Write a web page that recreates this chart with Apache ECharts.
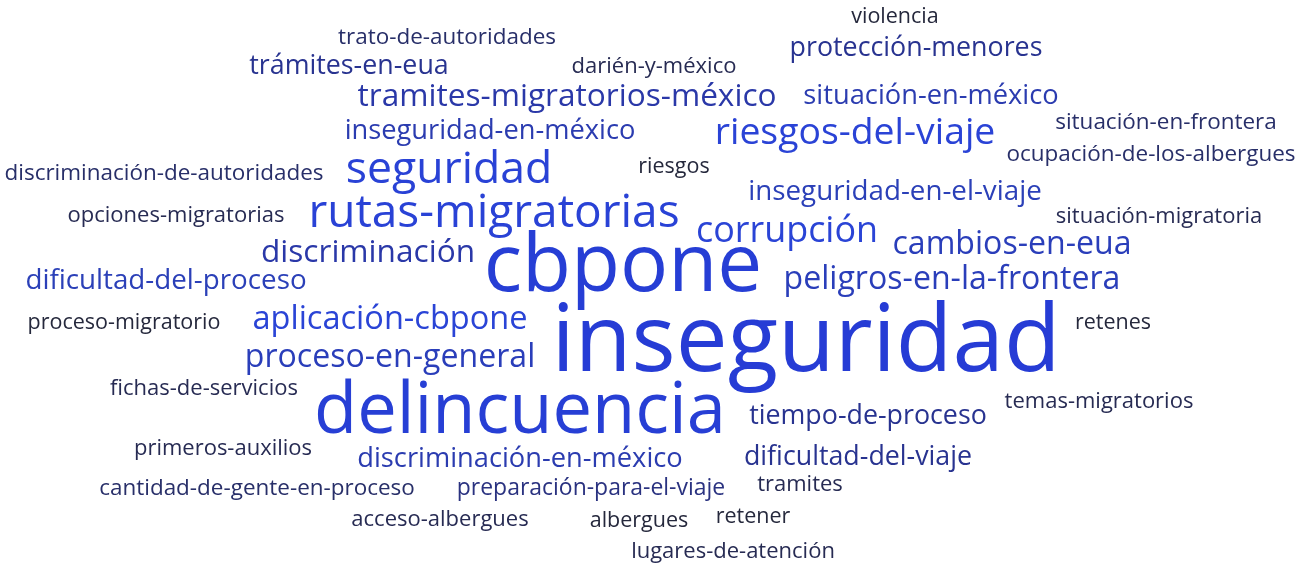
<!DOCTYPE html>
<html>
<head>
<meta charset="utf-8">
<script src="https://cdn.jsdelivr.net/npm/echarts@6/dist/echarts.min.js"></script>
<style>
  html, body { margin: 0; padding: 0; background: #ffffff; }
  #chart { width: 1300px; height: 565px; }
</style>
</head>
<body>
<div id="chart"></div>
<script>
// palabras de la nube, su frecuencia y la posición del centro de cada palabra
var words = [
    'violencia', 'trato-de-autoridades', 'protección-menores', 'trámites-en-eua',
    'darién-y-méxico', 'tramites-migratorios-méxico', 'situación-en-méxico',
    'situación-en-frontera', 'inseguridad-en-méxico', 'riesgos-del-viaje',
    'ocupación-de-los-albergues', 'discriminación-de-autoridades', 'riesgos',
    'seguridad', 'inseguridad-en-el-viaje', 'opciones-migratorias',
    'rutas-migratorias', 'situación-migratoria', 'corrupción', 'discriminación',
    'cambios-en-eua', 'cbpone', 'dificultad-del-proceso', 'peligros-en-la-frontera',
    'proceso-migratorio', 'aplicación-cbpone', 'inseguridad', 'retenes',
    'proceso-en-general', 'fichas-de-servicios', 'delincuencia', 'tiempo-de-proceso',
    'temas-migratorios', 'primeros-auxilios', 'discriminación-en-méxico',
    'dificultad-del-viaje', 'cantidad-de-gente-en-proceso', 'preparación-para-el-viaje',
    'tramites', 'acceso-albergues', 'albergues', 'retener', 'lugares-de-atención'
];
var counts = [
    9, 11, 20, 20,
    10, 30, 21,
    11, 21, 42,
    11, 11, 9,
    57, 22, 10,
    60, 10, 39, 30,
    31, 131, 22, 31,
    9, 32, 157, 9,
    31, 10, 111, 20,
    10, 10, 21,
    20, 11, 12,
    10, 10, 9, 9, 10
];
var wordX = [
    895, 447, 916, 349,
    654, 567, 931,
    1166, 490, 855,
    1151, 164, 674,
    449, 895, 176,
    494, 1159, 787, 368,
    1012, 623, 166, 952,
    124, 390, 806, 1113,
    390, 204, 520, 868,
    1099, 223, 520,
    858, 257, 591,
    800, 440, 639, 753, 733
];
var wordY = [
    17, 38, 48, 66,
    67, 97, 96,
    123, 131, 133,
    155, 174, 167,
    170, 192, 216,
    214, 217, 232, 253,
    245, 268, 281, 280,
    323, 320, 345, 323,
    358, 389, 413, 416,
    402, 449, 459,
    457, 489, 488,
    485, 520, 521, 517, 552
];

function fontFor(c) {
    return 17.2 + 0.48 * c;
}

// escala de color: azul marino oscuro (poco frecuente) -> azul brillante (muy frecuente)
var colorStops = [
    [9, [37, 40, 60]], [12, [42, 50, 128]], [20, [40, 51, 144]], [21, [43, 60, 176]],
    [22, [43, 64, 184]], [30, [42, 56, 168]], [31, [42, 62, 186]], [32, [42, 68, 214]],
    [200, [36, 57, 212]]
];
function colorFor(c) {
    if (c <= colorStops[0][0]) return 'rgb(' + colorStops[0][1].join(',') + ')';
    for (var i = 1; i < colorStops.length; i++) {
        if (c <= colorStops[i][0]) {
            var a = colorStops[i - 1], b = colorStops[i];
            var t = (c - a[0]) / (b[0] - a[0]);
            var rgb = a[1].map(function (v, k) { return Math.round(v + (b[1][k] - v) * t); });
            return 'rgb(' + rgb.join(',') + ')';
        }
    }
    return 'rgb(36,57,212)';
}

var cloudData = words.map(function (name, i) {
    var fs = fontFor(counts[i]);
    return {
        name: name,
        value: [wordX[i], wordY[i], counts[i]],
        label: {
            fontSize: fs,
            color: colorFor(counts[i]),
            offset: [0, 2 + fs * 0.04]
        }
    };
});

var chart = echarts.init(document.getElementById('chart'));

var option = {
    animation: false,
    grid: { left: 0, right: 0, top: 0, bottom: 0 },
    xAxis: { type: 'value', min: 0, max: 1300, show: false },
    yAxis: { type: 'value', min: 0, max: 565, inverse: true, show: false },
    series: [
        {
            type: 'scatter',
            symbolSize: 0,
            silent: true,
            itemStyle: { opacity: 1 },
            data: cloudData,
            labelLayout: { hideOverlap: false },
            label: {
                show: true,
                position: 'inside',
                align: 'center',
                verticalAlign: 'middle',
                opacity: 1,
                fontFamily: 'Open Sans',
                formatter: function (p) { return p.name; }
            }
        }
    ]
};

chart.setOption(option);
</script>
</body>
</html>
